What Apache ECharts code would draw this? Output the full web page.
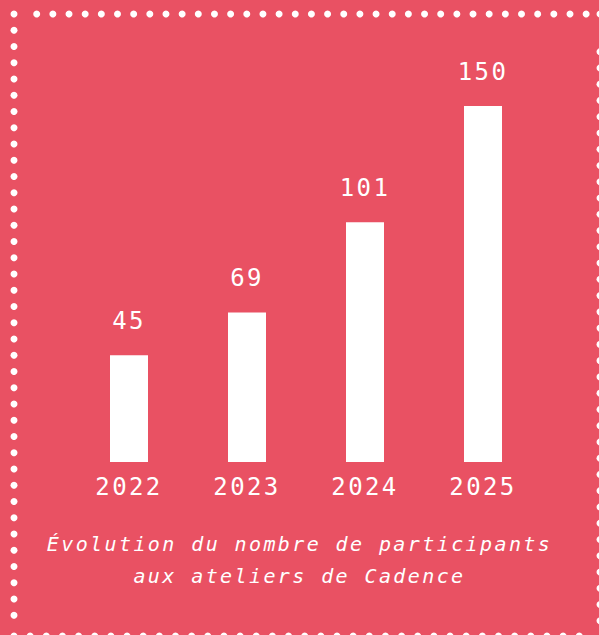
<!DOCTYPE html>
<html>
<head>
<meta charset="utf-8">
<script src="https://cdn.jsdelivr.net/npm/echarts@6/dist/echarts.min.js"></script>
<style>
  html, body { margin: 0; padding: 0; background: #E95163; }
  #chart { width: 599px; height: 635px; letter-spacing: 2.4px; }
</style>
</head>
<body>
<div id="chart"></div>
<script>
// Categories (years)
const years = ['2022', '2023', '2024', '2025'];
// Bar heights as drawn in the picture
const barHeights = [45, 63, 101, 150];
// Value labels as printed above the bars
const valueLabels = ['45', '69', '101', '150'];
// Title lines
const titleLines = ['Évolution du nombre de participants', 'aux ateliers de Cadence'];

const RED = '#E95163';
const WHITE = '#FFFFFF';
const FONT = '"DejaVu Sans Mono", monospace';

// Decorative dotted frame
function dots() {
  const els = [];
  const add = (x, y) => els.push({
    type: 'circle', silent: true,
    shape: { cx: x, cy: y, r: 3.5 },
    style: { fill: WHITE }
  });
  // top row
  add(14, 14);
  for (let x = 36.7; x < 592; x += 16.16) add(x, 14);
  add(600, 14);
  // left column
  for (let y = 30.3; y < 620; y += 16.25) add(14, y);
  // bottom row
  for (let x = 14; x < 585; x += 16.15) add(x, 636);
  // right column
  for (let y = 51.7; y < 625; y += 16.26) add(600, y);
  return els;
}

const chart = echarts.init(document.getElementById('chart'), null, { renderer: 'svg', width: 599, height: 635 });

chart.setOption({
  backgroundColor: RED,
  animation: false,
  title: {
    text: titleLines.join('\n'),
    left: 'center',
    top: 523,
    textStyle: {
      color: WHITE,
      fontFamily: FONT,
      fontStyle: 'italic',
      fontWeight: 'normal',
      fontSize: 20,
      lineHeight: 32
    }
  },
  grid: { left: 70, right: 57, top: 106, bottom: 173 },
  xAxis: {
    type: 'category',
    data: years,
    axisLine: { show: false },
    axisTick: { show: false },
    axisLabel: {
      color: WHITE,
      fontFamily: FONT,
      fontSize: 24,
      margin: 13
    }
  },
  yAxis: {
    type: 'value',
    min: 0,
    max: 150,
    show: false,
    splitLine: { show: false }
  },
  series: [{
    type: 'bar',
    data: barHeights,
    barWidth: 38,
    itemStyle: { color: WHITE },
    label: {
      show: true,
      position: 'top',
      distance: 22,
      color: WHITE,
      fontFamily: FONT,
      fontSize: 24,
      formatter: p => valueLabels[p.dataIndex]
    }
  }],
  graphic: dots()
});
</script>
</body>
</html>
